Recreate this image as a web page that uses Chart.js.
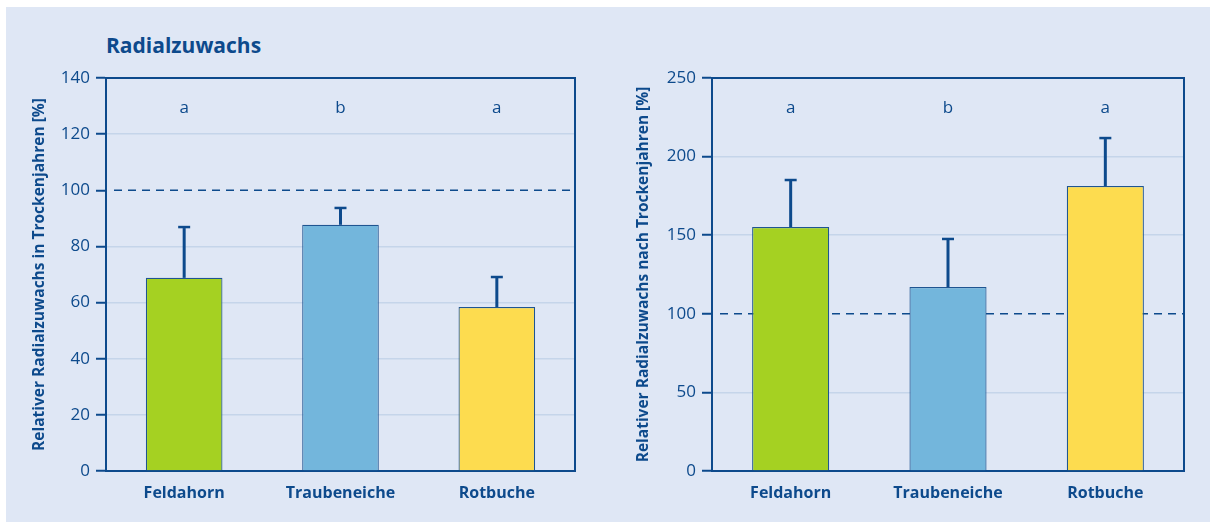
<!DOCTYPE html>
<html>
<head>
<meta charset="utf-8">
<script src="https://cdn.jsdelivr.net/npm/chart.js@4"></script>
<style>
  html, body { margin: 0; padding: 0; background: #fff; }
  body { width: 1213px; height: 522px; position: relative; overflow: hidden; font-family: 'Open Sans', sans-serif; }
  #panel { position: absolute; left: 6px; top: 7px; width: 1204px; height: 515px; background: #dfe7f5; }
  .box { position: absolute; top: 7px; height: 515px; }
  #boxDuring { left: 6px; width: 600px; }
  #boxAfter { left: 606px; width: 604px; }
  #title { position: absolute; left: 106px; top: 31px; font: bold 21px 'Open Sans', sans-serif; color: #0d4a8c; }
</style>
</head>
<body>
<div id="panel"></div>
<div id="title">Radialzuwachs</div>
<div class="box" id="boxDuring"><canvas id="duringChart"></canvas></div>
<div class="box" id="boxAfter"><canvas id="afterChart"></canvas></div>
<script>
// values (relative radial growth, %)
const species = ['Feldahorn', 'Traubeneiche', 'Rotbuche'];
const duringValues = [68.8, 87.7, 58.4];
const duringErrors = [18.1, 6.0, 10.7];
const afterValues = [155.2, 117.0, 181.3];
const afterErrors = [29.9, 30.6, 30.5];
const groupLetters = ['a', 'b', 'a'];
const barColors = ['#a5d122', '#73b6dc', '#fddc4f'];
const referenceLevel = 100;

const DARK = '#0d4a8c';
const GRID = '#c5d5ea';
const FONT = "'Open Sans', sans-serif";

// error bars, reference line, letters and frame
const extras = {
  id: 'extras',
  beforeDatasetsDraw(chart, args, opts) {
    const { ctx, chartArea: a, scales: { y } } = chart;
    const py = y.getPixelForValue(referenceLevel);
    ctx.save();
    ctx.strokeStyle = DARK; ctx.lineWidth = 1.5; ctx.setLineDash([8, 6]);
    ctx.beginPath(); ctx.moveTo(a.left + 8, py); ctx.lineTo(a.right, py); ctx.stroke();
    ctx.restore();
  },
  afterDatasetsDraw(chart, args, opts) {
    const { ctx, chartArea: a, scales: { y } } = chart;
    const meta = chart.getDatasetMeta(0);
    ctx.save();
    ctx.strokeStyle = DARK;
    meta.data.forEach((bar, i) => {
      const v = chart.data.datasets[0].data[i];
      const top = y.getPixelForValue(v + opts.errors[i]);
      ctx.lineWidth = 3;
      ctx.beginPath(); ctx.moveTo(bar.x, bar.y); ctx.lineTo(bar.x, top + 1); ctx.stroke();
      ctx.lineWidth = 2.5;
      ctx.beginPath(); ctx.moveTo(bar.x - 6, top); ctx.lineTo(bar.x + 6, top); ctx.stroke();
      ctx.fillStyle = DARK; ctx.font = '17px ' + FONT;
      ctx.textAlign = 'center'; ctx.textBaseline = 'middle';
      ctx.fillText(groupLetters[i], bar.x, y.getPixelForValue(opts.letterAt));
    });
    ctx.lineWidth = 2;
    ctx.beginPath();
    ctx.moveTo(a.left, a.top); ctx.lineTo(a.right, a.top); ctx.lineTo(a.right, a.bottom);
    ctx.stroke();
    ctx.restore();
  }
};

function makeChart(id, values, errors, yMax, yStep, letterAt, yTitle, axisWidth, titlePad, padRight) {
  return new Chart(document.getElementById(id), {
    type: 'bar',
    data: {
      labels: species,
      datasets: [{
        data: values,
        backgroundColor: barColors,
        borderColor: '#1f5591',
        borderWidth: 1.2,
        barPercentage: 0.49,
        categoryPercentage: 1
      }]
    },
    options: {
      responsive: true, maintainAspectRatio: false, animation: false,
      layout: { padding: { top: 71, right: padRight, bottom: 0, left: 0 } },
      plugins: {
        legend: { display: false }, tooltip: { enabled: false },
        extras: { errors: errors, letterAt: letterAt }
      },
      scales: {
        x: {
          grid: { display: false, drawTicks: false },
          border: { color: DARK, width: 2 },
          ticks: { color: DARK, font: { family: FONT, size: 16, weight: 'bold' }, padding: 13 },
          afterFit(s) { s.height = 51; }
        },
        y: {
          min: 0, max: yMax,
          grid: {
            color: ctx => (ctx.tick && ctx.tick.value === referenceLevel) ? 'rgba(0,0,0,0)' : GRID,
            lineWidth: 1.5, tickLength: 10, tickColor: DARK, tickWidth: 2
          },
          border: { color: DARK, width: 2 },
          ticks: { stepSize: yStep, color: DARK, font: { family: FONT, size: 17 }, padding: 6 },
          title: {
            display: true, text: yTitle, color: DARK,
            font: { family: FONT, size: 15.5, weight: 'bold' }, padding: { top: titlePad, bottom: 0 }
          },
          afterFit(s) { s.width = axisWidth; }
        }
      }
    },
    plugins: [extras]
  });
}

makeChart('duringChart', duringValues, duringErrors, 140, 20, 129.3,
  'Relativer Radialzuwachs in Trockenjahren [%]', 100, 24, 31);
makeChart('afterChart', afterValues, afterErrors, 250, 50, 231,
  'Relativer Radialzuwachs nach Trockenjahren [%]', 106, 28, 26);
</script>
</body>
</html>
